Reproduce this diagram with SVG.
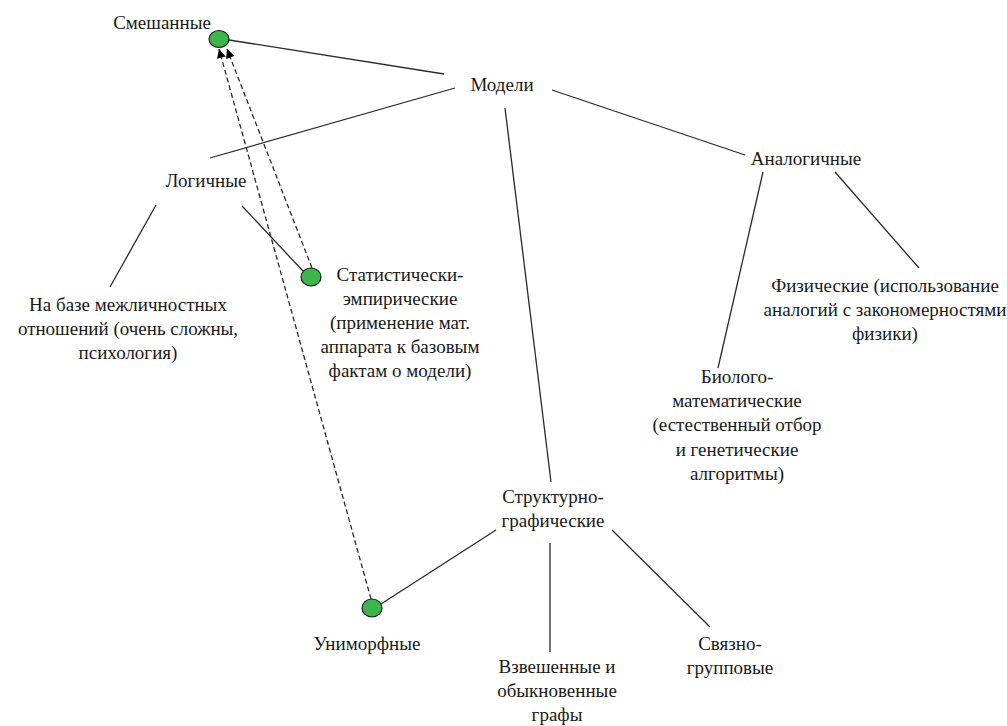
<svg xmlns="http://www.w3.org/2000/svg" width="1007" height="726" viewBox="0 0 1007 726">
<style>
text{font-family:'Liberation Serif','DejaVu Serif',serif;font-size:19px;fill:#1a1a1a;text-anchor:middle}
.ln{stroke:#2a2a2a;stroke-width:1.3;fill:none}
.ds{stroke:#2a2a2a;stroke-width:1.3;fill:none;stroke-dasharray:5 3;marker-end:url(#ah)}
.dot{fill:#3cb54a;stroke:#1a1a1a;stroke-width:1.2}
</style>
<defs>
<marker id="ah" viewBox="0 0 10 10" refX="10" refY="5" markerWidth="10" markerHeight="9" markerUnits="userSpaceOnUse" orient="auto">
<path d="M0,0 L10,5 L0,10 z" fill="#000"/>
</marker>
</defs>
<rect width="1007" height="726" fill="#fff"/>
<g id="connectors">
<line class="ln" x1="229" y1="40" x2="444" y2="74"/>
<line class="ln" x1="455" y1="88" x2="210" y2="158"/>
<line class="ln" x1="552" y1="90" x2="745" y2="155"/>
<line class="ln" x1="505" y1="108" x2="551" y2="482"/>
<line class="ln" x1="156" y1="205" x2="110" y2="287"/>
<line class="ln" x1="242" y1="206" x2="303" y2="271"/>
<line class="ln" x1="763" y1="172" x2="718" y2="368"/>
<line class="ln" x1="835" y1="172" x2="919" y2="268"/>
<line class="ln" x1="496" y1="530" x2="381" y2="604"/>
<line class="ln" x1="550" y1="543" x2="550" y2="652"/>
<line class="ln" x1="612" y1="530" x2="710" y2="627"/>
<line class="ds" x1="312" y1="268" x2="227" y2="49"/>
<line class="ds" x1="371" y1="599" x2="219" y2="49"/>
</g>
<g id="smeshannye">
<ellipse class="dot" cx="219" cy="39" rx="10" ry="8.5"/>
<text x="162" y="29">Смешанные</text>
</g>
<g id="modeli">
<text x="502" y="91">Модели</text>
</g>
<g id="logichnye">
<text x="206" y="187">Логичные</text>
</g>
<g id="analogichnye">
<text x="806" y="165">Аналогичные</text>
</g>
<g id="mezhlichnostnye">
<text x="128" y="311">На базе межличностных</text>
<text x="128" y="335">отношений (очень сложны,</text>
<text x="128" y="359">психология)</text>
</g>
<g id="statisticheskie">
<ellipse class="dot" cx="311" cy="277" rx="10" ry="9"/>
<text x="400" y="281">Статистически-</text>
<text x="400" y="305">эмпирические</text>
<text x="400" y="329">(применение мат.</text>
<text x="400" y="353">аппарата к базовым</text>
<text x="400" y="377">фактам о модели)</text>
</g>
<g id="fizicheskie">
<text x="885" y="292">Физические (использование</text>
<text x="885" y="316">аналогий с закономерностями</text>
<text x="885" y="340">физики)</text>
</g>
<g id="biologo">
<text x="737" y="383">Биолого-</text>
<text x="737" y="407">математические</text>
<text x="737" y="431">(естественный отбор</text>
<text x="737" y="456">и генетические</text>
<text x="737" y="480">алгоритмы)</text>
</g>
<g id="strukturno">
<text x="553" y="503">Структурно-</text>
<text x="553" y="527">графические</text>
</g>
<g id="unimorfnye">
<ellipse class="dot" cx="372" cy="608" rx="10" ry="9"/>
<text x="367" y="650">Униморфные</text>
</g>
<g id="vzveshennye">
<text x="557" y="673">Взвешенные и</text>
<text x="557" y="697">обыкновенные</text>
<text x="557" y="721">графы</text>
</g>
<g id="svyazno">
<text x="730" y="650">Связно-</text>
<text x="730" y="674">групповые</text>
</g>
</svg>
